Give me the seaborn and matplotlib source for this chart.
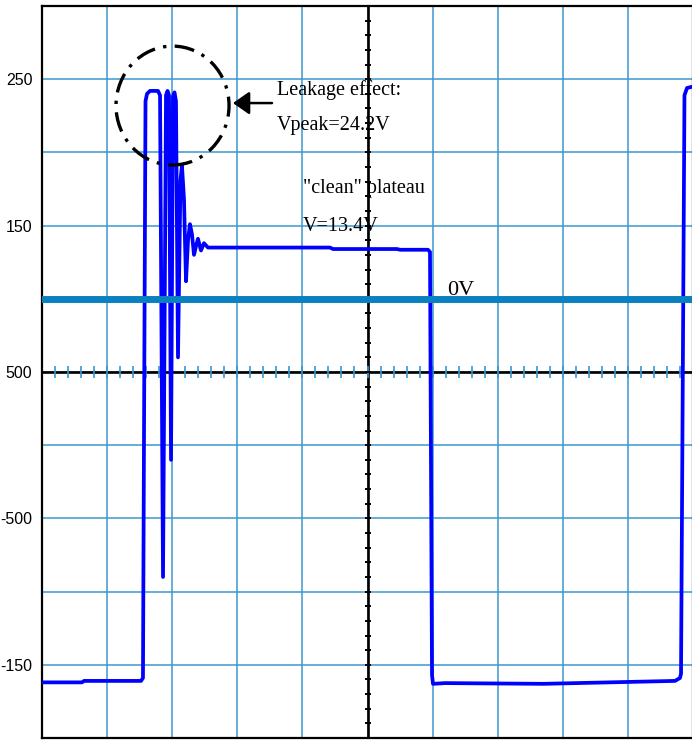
import numpy as np
import pandas as pd
import matplotlib
matplotlib.use("Agg")
import matplotlib.pyplot as plt
from matplotlib.patches import Ellipse
import seaborn as sns

# Drain-voltage trace, time in screen divisions (10 across), volts on the screen scale
time_div = [0.000, 0.614, 0.645, 1.521, 1.551, 1.567, 1.590, 1.613, 1.659, 1.782,
            1.813, 1.859, 1.905, 1.928, 1.951, 1.982, 2.012, 2.035, 2.058, 2.089,
            2.127, 2.150, 2.181, 2.212, 2.243, 2.273, 2.304, 2.335, 2.366, 2.396,
            2.442, 2.488, 2.550, 4.424, 4.470, 5.453, 5.500, 5.929, 5.960, 5.991,
            6.006, 6.190, 7.700, 9.724, 9.800, 9.816, 9.869, 9.908, 10.000]
volts = [-16.2, -16.2, -16.1, -16.1, -15.9, 0.8, 23.5, 24.0, 24.2, 24.2,
         23.9, -9.0, 23.9, 24.2, 23.9, -1.0, 23.8, 24.1, 23.5, 6.0,
         18.1, 19.1, 16.8, 11.2, 14.0, 15.1, 14.4, 13.0, 13.6, 14.1,
         13.3, 13.8, 13.5, 13.5, 13.4, 13.4, 13.35, 13.35, 13.2, -15.7,
         -16.3, -16.25, -16.3, -16.1, -15.9, -15.6, 23.9, 24.4, 24.5]

ytick_values = [25, 15, 5, -5, -15]
ytick_labels = ["250", "150", "500", "-500", "-150"]
peak_v = 24.2
plateau_v = 13.4
zero_ref = 10.0        # screen position of the 0 V reference marker
center_level = 5.0     # horizontal centre line of the graticule
center_time = 5.0      # vertical centre line of the graticule

trace = pd.DataFrame({"t": time_div, "v": volts})

sns.set_style("white")
plt.rcParams["font.family"] = ["Liberation Sans", "DejaVu Sans"]
plt.rcParams["text.color"] = "black"
plt.rcParams["ytick.color"] = "black"
plt.rcParams["ytick.labelcolor"] = "black"

grid_blue = "#3a97d0"
fig = plt.figure(figsize=(6.92, 7.40), dpi=100)
ax = fig.add_axes([42 / 692, 2 / 740, 651 / 692, 732 / 740])
ax.set_xlim(0, 10)
ax.set_ylim(-20, 30)

# graticule
ax.set_xticks(np.arange(0, 11, 1))
ax.set_xticklabels([])
ax.set_yticks(ytick_values, ytick_labels)
ax.set_yticks(np.arange(-20, 31, 5), minor=True)
ax.tick_params(axis="both", which="both", length=0)
ax.tick_params(axis="y", pad=7, labelsize=11.5, labelcolor="black")
ax.grid(True, which="major", axis="x", color=grid_blue, lw=1.1, zorder=0)
ax.grid(True, which="both", axis="y", color=grid_blue, lw=1.1, zorder=0)
ax.set_axisbelow(True)
for s in ax.spines.values():
    s.set_color("black")
    s.set_linewidth(1.6)

# centre cross with its subdivision marks
ax.axhline(center_level, color="black", lw=1.9, zorder=2)
ax.axvline(center_time, color="black", lw=1.9, zorder=2)
sub_t = np.arange(0, 10.01, 0.2)
ax.plot(sub_t, np.full_like(sub_t, center_level), ls="none", marker="|",
        ms=8, mew=1.2, color=grid_blue, zorder=2.1)
sub_v = np.arange(-20, 30.1, 1)
ax.plot(np.full_like(sub_v, center_time), sub_v, ls="none", marker="_",
        ms=5, mew=1.4, color="black", zorder=2.1)

# measured waveform
sns.lineplot(data=trace, x="t", y="v", estimator=None, sort=False,
             color="#0000ff", lw=2.7, ax=ax, zorder=3)

# 0 V reference marker
ax.axhline(zero_ref, color="#0b80c0", lw=5, zorder=4)

ax.set_xlabel("")
ax.set_ylabel("")

# annotations
serif = ["Liberation Serif", "DejaVu Serif"]
txt = dict(family=serif, fontsize=14.5, va="baseline", color="black", zorder=5)
ax.add_patch(Ellipse((2.005, 23.2), 1.736, 8.12, fill=False, color="black",
                     lw=2.4, ls=(0, (6, 2.5, 1, 2.5)), zorder=5))
ax.annotate("", xy=(2.934, 23.37), xytext=(3.533, 23.37),
            arrowprops=dict(arrowstyle="-|>,head_length=0.5,head_width=0.35",
                            lw=1.8, color="black", mutation_scale=20,
                            shrinkA=0, shrinkB=0), zorder=5)
ax.text(3.61, 23.92, "Leakage effect:", **txt)
ax.text(3.61, 21.53, f"Vpeak={peak_v:.1f}V", **txt)
ax.text(4.01, 17.23, "\"clean\" plateau", **txt)
ax.text(4.01, 14.63, f"V={plateau_v:.1f}V", **txt)
ax.text(6.22, 10.26, "0V", **{**txt, "fontsize": 16})

fig.savefig("out.png", dpi=100)
